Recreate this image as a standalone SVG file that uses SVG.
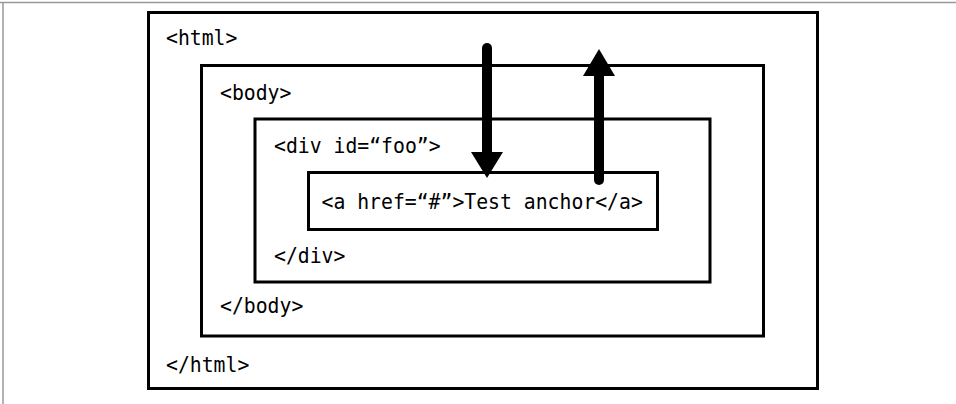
<svg xmlns="http://www.w3.org/2000/svg" width="956" height="404" viewBox="0 0 956 404">
<style>
.box{fill:none;stroke:#000;stroke-width:3}
.t{font-family:"DejaVu Sans Mono","Liberation Mono",monospace;font-size:22px;fill:#000}
.shaft{stroke:#000;stroke-width:10;stroke-linecap:round;fill:none}
.head{fill:#000}
</style>
<rect width="956" height="404" fill="#fff"/>
<g id="frame">
<line x1="0" y1="2.5" x2="956" y2="2.5" stroke="#999" stroke-width="1.5"/>
<line x1="3" y1="2" x2="3" y2="404" stroke="#999" stroke-width="1.5"/>
</g>
<g id="html">
<rect class="box" x="148.5" y="12.5" width="669" height="376"/>
<text class="t" x="166" y="45" textLength="71.4" lengthAdjust="spacingAndGlyphs">&lt;html&gt;</text>
<text class="t" x="166" y="372" textLength="83.3" lengthAdjust="spacingAndGlyphs">&lt;/html&gt;</text>
</g>
<g id="body">
<rect class="box" x="201.5" y="65.5" width="562" height="270.5"/>
<text class="t" x="220" y="100" textLength="71.4" lengthAdjust="spacingAndGlyphs">&lt;body&gt;</text>
<text class="t" x="220" y="313" textLength="83.3" lengthAdjust="spacingAndGlyphs">&lt;/body&gt;</text>
</g>
<g id="div">
<rect class="box" x="255" y="119" width="455" height="163"/>
<text class="t" x="274" y="153" textLength="166.6" lengthAdjust="spacingAndGlyphs">&lt;div id=“foo”&gt;</text>
<text class="t" x="274" y="263" textLength="71.4" lengthAdjust="spacingAndGlyphs">&lt;/div&gt;</text>
</g>
<g id="anchor">
<rect class="box" x="308.5" y="172.5" width="349" height="57"/>
<text class="t" x="321.5" y="209" textLength="321.3" lengthAdjust="spacingAndGlyphs">&lt;a href=“#”&gt;Test anchor&lt;/a&gt;</text>
</g>
<g id="connectors">
<line class="shaft" x1="487" y1="48" x2="487" y2="155"/>
<polygon class="head" points="471,152 503,152 487,178"/>
<line class="shaft" x1="599" y1="180" x2="599" y2="73"/>
<polygon class="head" points="583,76 615,76 599,49"/>
</g>
</svg>
